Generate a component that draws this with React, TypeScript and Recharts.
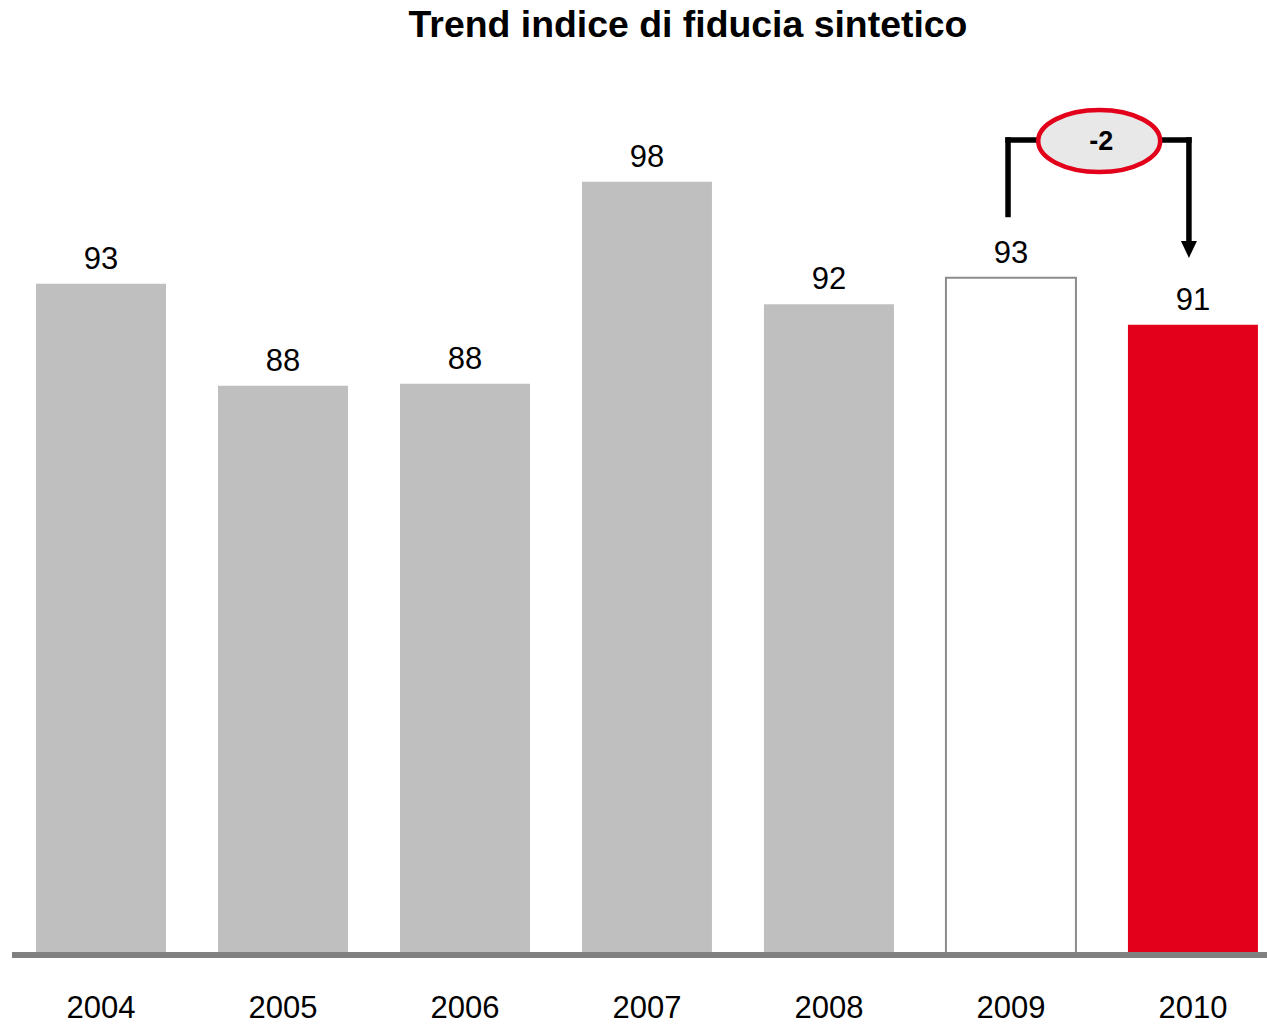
import React from "react";
import { BarChart, Bar, XAxis, YAxis, Cell, LabelList, ReferenceLine, ReferenceDot } from "recharts";

const years = ["2004", "2005", "2006", "2007", "2008", "2009", "2010"];
const values = [93, 88, 88.1, 98, 92, 93.3, 91];
const deltaLabel = "-2";

const fills = ["#bfbfbf", "#bfbfbf", "#bfbfbf", "#bfbfbf", "#bfbfbf", "#ffffff", "#e2001a"];
const strokes = ["none", "none", "none", "none", "none", "#8c8c8c", "none"];

const data = years.map((year, i) => ({ idx: i, year, value: values[i] }));

const FONT = "'Liberation Sans', Arial, Helvetica, sans-serif";

const YearTick = (props: any) => {
  const { x, y, payload } = props;
  return (
    <text x={x} y={y + 63} textAnchor="middle" fontFamily={FONT} fontSize={31} fill="#000">
      {years[payload.value]}
    </text>
  );
};

const ValueLabel = (props: any) => {
  const { x, y, width, value } = props;
  return (
    <text x={x + width / 2} y={y - 15} textAnchor="middle" fontFamily={FONT} fontSize={31} fill="#000">
      {Math.round(value)}
    </text>
  );
};

const Bubble = (props: any) => {
  const { cx, cy } = props;
  return (
    <g>
      <ellipse cx={cx} cy={cy} rx={61} ry={31} fill="#e8e8e8" stroke="#e2001a" strokeWidth={4.5} />
      <text x={cx + 2} y={cy + 9} textAnchor="middle" fontFamily={FONT} fontWeight="bold" fontSize={27} fill="#000">
        {deltaLabel}
      </text>
    </g>
  );
};

const ArrowHead = (props: any) => {
  const { cx, cy } = props;
  return <polygon points={`${cx},${cy} ${cx - 8},${cy - 17} ${cx + 8},${cy - 17}`} fill="#000" />;
};

const leftX = 4.984;
const rightX = 5.978;
const topY = 100.05;

export default function App() {
  return (
    <div style={{ position: "absolute", left: 0, top: 0, width: 1267, height: 1024, background: "#fff" }}>
      <div
        style={{
          position: "absolute",
          left: 188,
          top: 6,
          width: 1000,
          textAlign: "center",
          fontFamily: FONT,
          fontWeight: "bold",
          fontSize: 37.4,
          lineHeight: "37px",
          color: "#000",
        }}
      >
        Trend indice di fiducia sintetico
      </div>
      <BarChart width={1267} height={1024} data={data} margin={{ top: 139, right: 0, bottom: 0, left: 12 }}>
        <XAxis
          dataKey="idx"
          type="number"
          domain={[-0.489, 6.407]}
          allowDataOverflow
          ticks={[0, 1, 2, 3, 4, 5, 6]}
          interval={0}
          height={69}
          tickLine={false}
          tickSize={0}
          tickMargin={0}
          axisLine={{ stroke: "#808080", strokeWidth: 6 }}
          tick={<YearTick />}
        />
        <YAxis hide domain={[60.1, 100.1]} allowDataOverflow />
        <Bar dataKey="value" barSize={130} isAnimationActive={false}>
          {data.map((d, i) => (
            <Cell key={d.year} fill={fills[i]} stroke={strokes[i]} strokeWidth={2} />
          ))}
          <LabelList dataKey="value" content={<ValueLabel />} />
        </Bar>
        <ReferenceLine
          segment={[{ x: leftX, y: 96.4 }, { x: leftX, y: topY }]}
          stroke="#000"
          strokeWidth={5.5}
          strokeLinecap="square"
        />
        <ReferenceLine
          segment={[{ x: leftX, y: topY }, { x: rightX, y: topY }]}
          stroke="#000"
          strokeWidth={5.5}
          strokeLinecap="square"
        />
        <ReferenceLine
          segment={[{ x: rightX, y: topY }, { x: rightX, y: 95.0 }]}
          stroke="#000"
          strokeWidth={5.5}
          strokeLinecap="square"
        />
        <ReferenceDot x={5.485} y={100.0} shape={<Bubble />} />
        <ReferenceDot x={rightX} y={94.27} shape={<ArrowHead />} />
      </BarChart>
    </div>
  );
}
